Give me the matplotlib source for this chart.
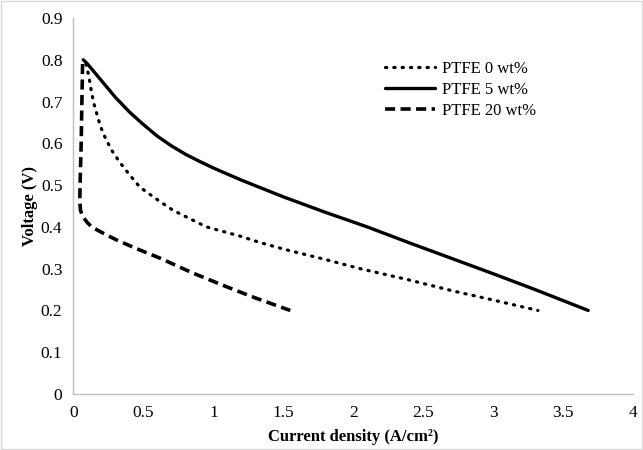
import matplotlib
matplotlib.use('Agg')
import matplotlib.pyplot as plt
from matplotlib.patches import Rectangle

plt.rcParams['font.family'] = 'Liberation Serif'

# polarization curves
x_0wt = [0.09, 0.11, 0.13, 0.15, 0.18, 0.21, 0.27, 0.33, 0.4, 0.475, 0.6, 0.71,
         0.83, 0.95, 1.19, 1.33, 1.5, 1.8, 2.05, 2.4, 2.71, 3.0, 3.32]
v_0wt = [0.79, 0.76, 0.72, 0.69, 0.655, 0.625, 0.585, 0.555, 0.525, 0.495, 0.465, 0.44,
         0.42, 0.40, 0.378, 0.363, 0.347, 0.322, 0.30, 0.273, 0.247, 0.225, 0.2]

x_5wt = [0.07, 0.1, 0.15, 0.2, 0.3, 0.4, 0.5, 0.6, 0.7, 0.8, 0.9, 1.0, 1.2, 1.5,
         1.8, 2.1, 2.4, 2.7, 3.0, 3.3, 3.68]
v_5wt = [0.80, 0.79, 0.77, 0.75, 0.71, 0.675, 0.645, 0.617, 0.594, 0.574, 0.557, 0.541,
         0.512, 0.472, 0.435, 0.40, 0.362, 0.325, 0.288, 0.25, 0.2]

x_20wt = [0.065, 0.06, 0.055, 0.047, 0.045, 0.05, 0.065, 0.1, 0.13, 0.2, 0.3, 0.45,
          0.62, 0.85, 1.1, 1.3, 1.55]
v_20wt = [0.79, 0.70, 0.60, 0.50, 0.46, 0.44, 0.425, 0.41, 0.40, 0.387, 0.37, 0.348,
          0.325, 0.29, 0.256, 0.23, 0.2]

labels = ['PTFE 0 wt%', 'PTFE 5 wt%', 'PTFE 20 wt%']
xticks = [0, 0.5, 1, 1.5, 2, 2.5, 3, 3.5, 4]
yticks = [0, 0.1, 0.2, 0.3, 0.4, 0.5, 0.6, 0.7, 0.8, 0.9]

fig = plt.figure(figsize=(6.43, 4.5), dpi=100)
ax = fig.add_axes([0.1143, 0.1244, 0.8701, 0.8356])

ax.plot(x_0wt, v_0wt, color='black', lw=2.3, linestyle=(0, (0.4, 2.2)),
        dash_capstyle='round', label=labels[0])
ax.plot(x_5wt, v_5wt, color='black', lw=2.4, solid_joinstyle='round',
        solid_capstyle='round', label=labels[1])
ax.plot(x_20wt, v_20wt, color='black', lw=2.6, linestyle=(0, (2.8, 1.5)),
        dash_joinstyle='round', label=labels[2])

ax.set_xlim(0, 4)
ax.set_ylim(0, 0.9)
ax.set_xticks(xticks)
ax.set_xticklabels([f'{t:g}' for t in xticks])
ax.set_yticks(yticks)
ax.set_yticklabels([f'{t:g}' for t in yticks])
ax.tick_params(length=0, labelsize=12.5, pad=8)

for s in ['top', 'right']:
    ax.spines[s].set_visible(False)
for s in ['left', 'bottom']:
    ax.spines[s].set_color('#bfbfbf')
    ax.spines[s].set_linewidth(1)

ax.set_xlabel('Current density (A/cm²)', fontsize=12, fontweight='bold', labelpad=6)
ax.set_ylabel('Voltage (V)', fontsize=12, fontweight='bold', labelpad=2)

ax.legend(loc='upper left', bbox_to_anchor=(0.53, 0.925), frameon=False,
          fontsize=12, handlelength=3.0, handletextpad=0.4, labelspacing=0.3)

# light chart border
fig.patches.append(Rectangle((0.002, 0.002), 0.996, 0.996, transform=fig.transFigure,
                             fill=False, edgecolor='#d9d9d9', lw=1))

fig.savefig('out.png', dpi=100)
